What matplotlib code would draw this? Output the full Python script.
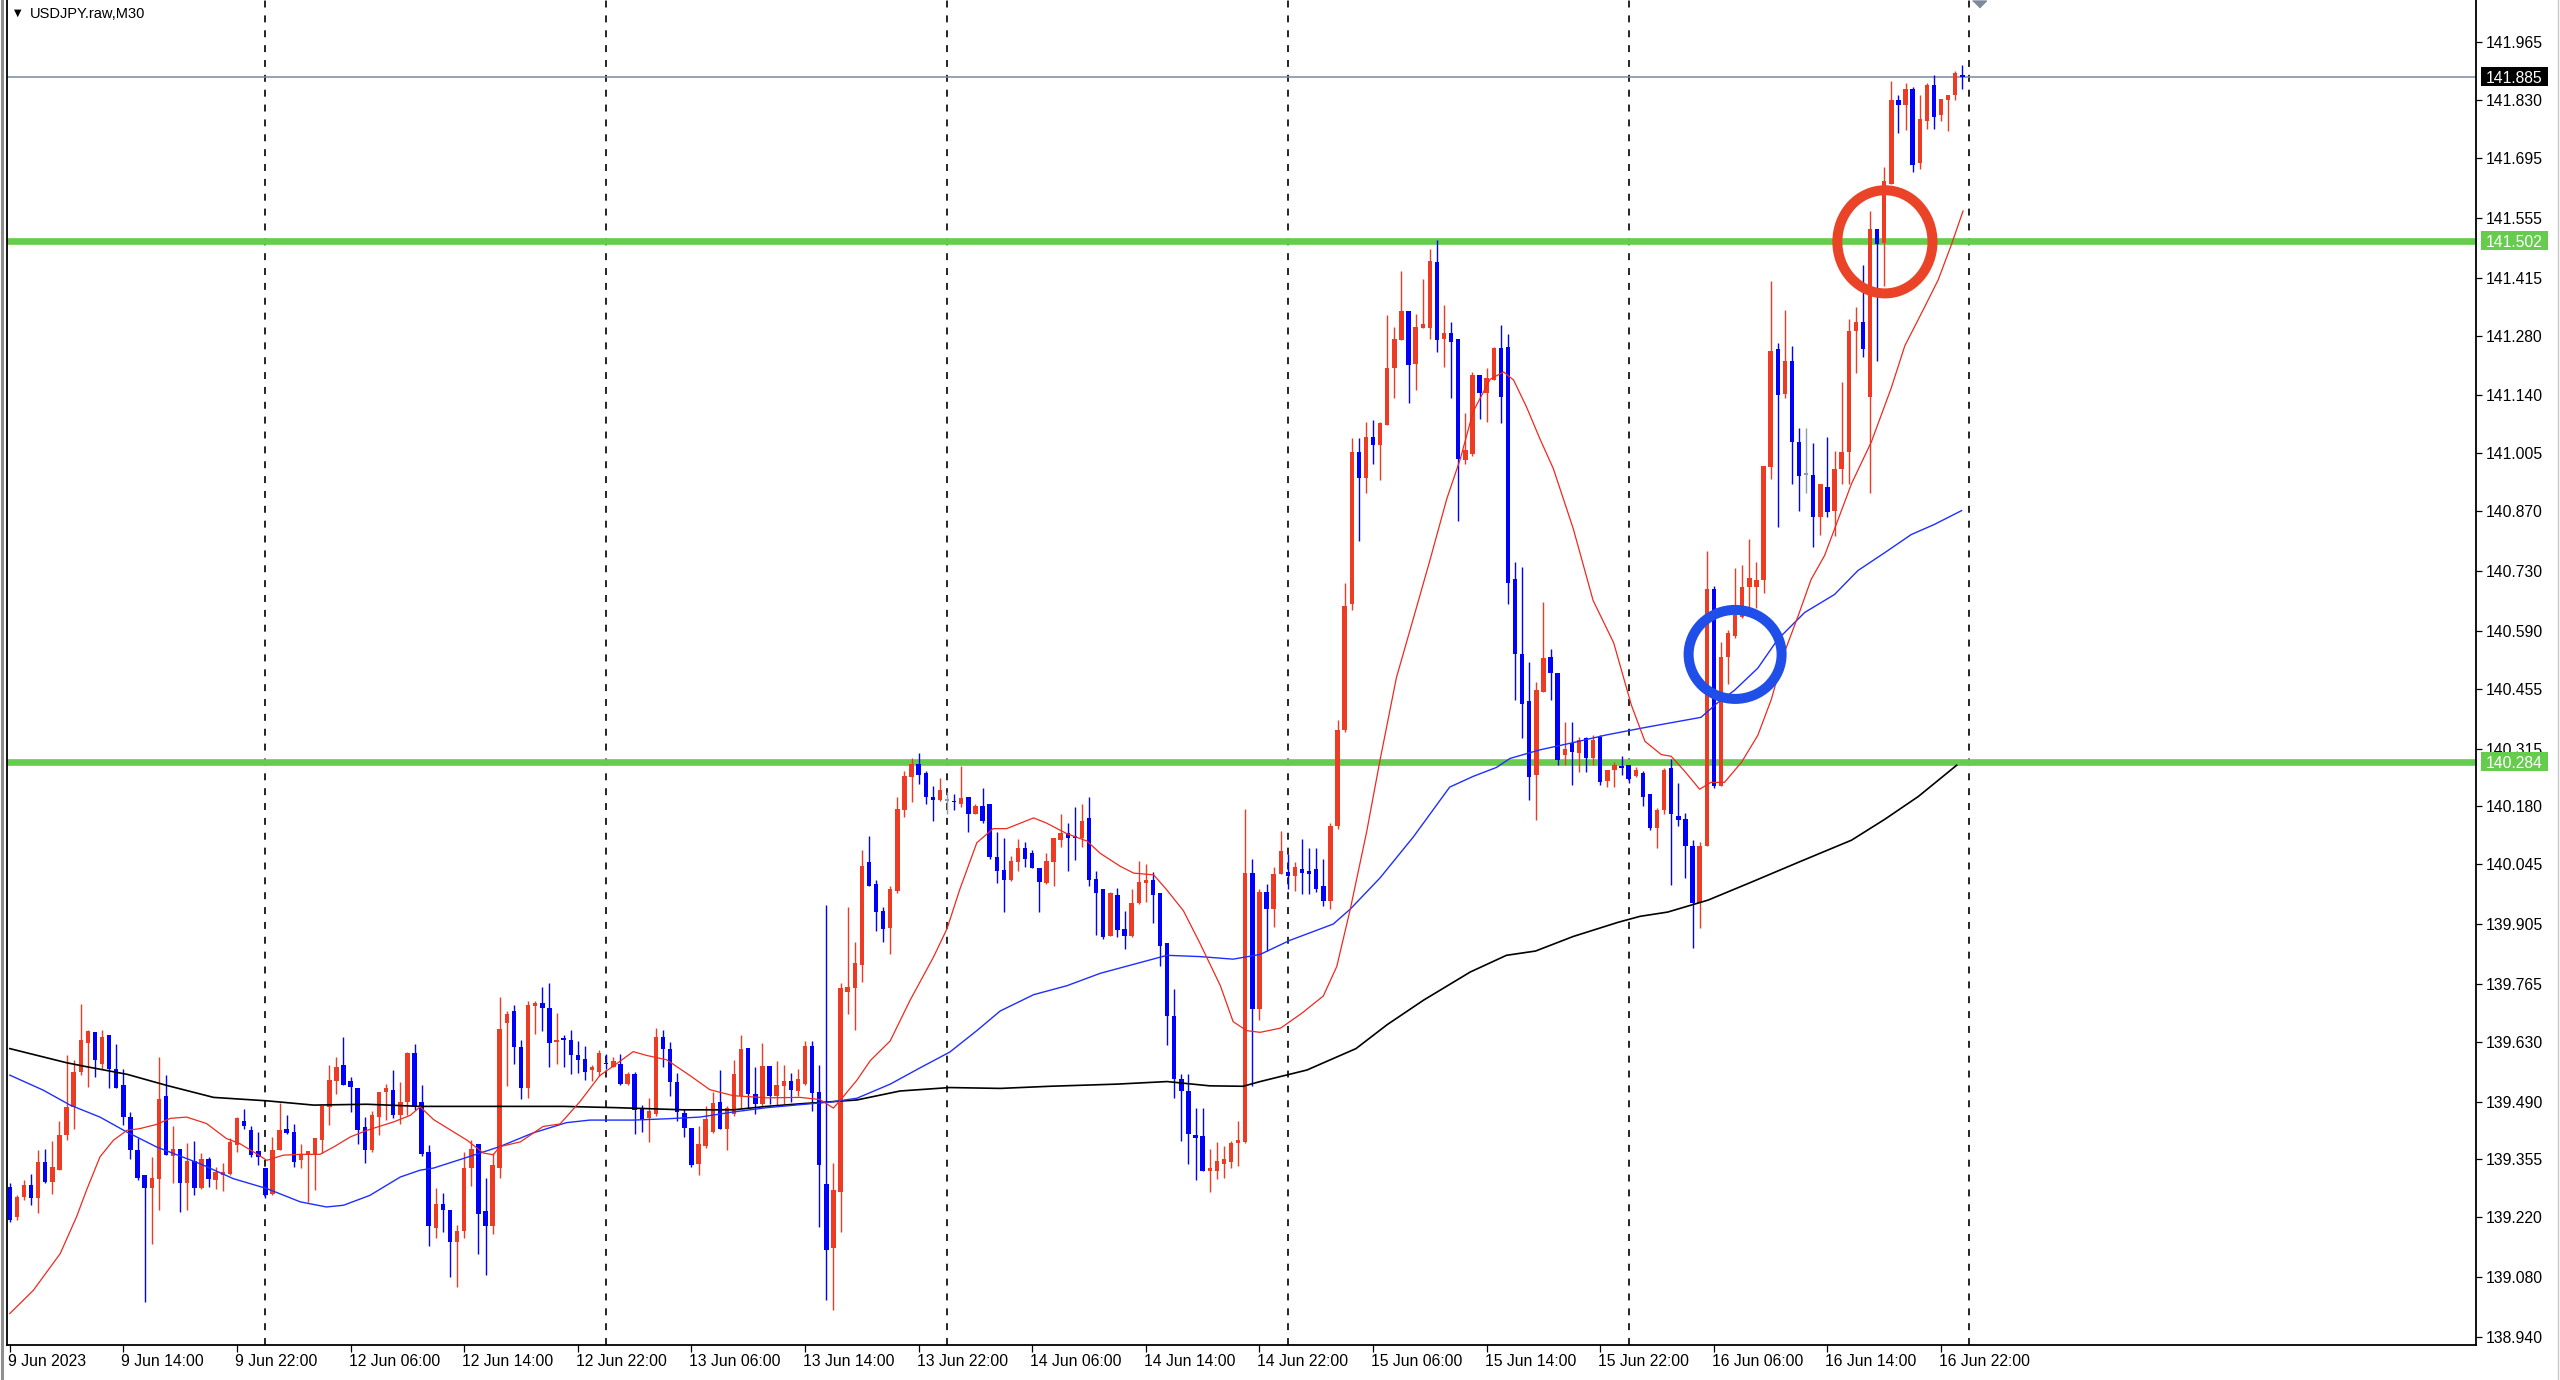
import matplotlib

matplotlib.use("Agg")
import matplotlib.pyplot as plt
import numpy as np
from matplotlib.lines import Line2D
from matplotlib.patches import Ellipse, Rectangle
from matplotlib.transforms import ScaledTranslation, blended_transform_factory

plt.rcParams["font.family"] = ["Liberation Sans", "DejaVu Sans"]
plt.rcParams["lines.scale_dashes"] = False

# ---- data (USDJPY M30, 9 Jun 06:00 .. 16 Jun 23:30, one row of 12 bars per line)
opens = [
    # 9 Jun
    139.291, 139.221, 139.268, 139.295, 139.264, 139.349, 139.303, 139.330, 139.412, 139.478, 139.560, 139.626,
    139.653, 139.579, 139.645, 139.567, 139.529, 139.455, 139.377, 139.318, 139.289, 139.310, 139.504, 139.363,
    139.379, 139.301, 139.352, 139.289, 139.355, 139.306, 139.318, 139.322, 139.388, 139.445, 139.425, 139.374,
    # 12 Jun
    139.334, 139.275, 139.377, 139.427, 139.419, 139.353, 139.365, 139.367, 139.400, 139.478, 139.538, 139.575,
    139.538, 139.521, 139.431, 139.377, 139.455, 139.513, 139.517, 139.458, 139.490, 139.604, 139.490, 139.372,
    139.194, 139.250, 139.236, 139.161, 139.187, 139.335, 139.391, 139.234, 139.199, 139.335, 139.673, 139.701,
    139.617, 139.523, 139.713, 139.720, 139.710, 139.629, 139.638, 139.635, 139.598, 139.590, 139.565, 139.560,
    # 13 Jun
    139.581, 139.572, 139.579, 139.532, 139.555, 139.476, 139.452, 139.462, 139.640, 139.612, 139.537, 139.463,
    139.429, 139.344, 139.387, 139.419, 139.490, 139.426, 139.462, 139.504, 139.616, 139.509, 139.485, 139.574,
    139.504, 139.527, 139.539, 139.516, 139.532, 139.621, 139.513, 139.298, 139.147, 139.280, 139.747, 139.755,
    139.809, 140.049, 139.999, 139.936, 139.896, 139.982, 140.171, 140.249, 140.280, 140.257, 140.203, 140.196,
    # 14 Jun
    140.193, 140.193, 140.186, 140.201, 140.163, 140.182, 140.185, 140.061, 140.032, 140.007, 140.049, 140.082,
    140.070, 140.036, 140.001, 140.049, 140.101, 140.118, 140.110, 140.107, 140.153, 140.011, 139.986, 139.878,
    139.974, 139.894, 139.876, 139.954, 140.001, 140.007, 139.978, 139.861, 139.690, 139.544, 139.515, 139.412,
    139.409, 139.327, 139.329, 139.345, 139.348, 139.394, 139.395, 140.024, 139.707, 139.981, 139.940, 140.021,
    # 15 Jun
    140.027, 140.018, 140.033, 140.030, 140.033, 139.995, 139.960, 140.134, 140.359, 140.653, 141.009, 140.948,
    141.044, 141.025, 141.071, 141.204, 141.269, 141.337, 141.213, 141.297, 141.297, 141.451, 141.271, 141.285,
    141.271, 140.990, 141.004, 141.187, 141.145, 141.176, 141.250, 141.254, 140.711, 140.536, 140.425, 140.254,
    140.448, 140.529, 140.492, 140.300, 140.327, 140.304, 140.339, 140.294, 140.343, 140.239, 140.266, 140.274,
    # 16 Jun
    140.276, 140.250, 140.259, 140.208, 140.129, 140.171, 140.269, 140.157, 140.150, 140.087, 139.954, 140.087,
    140.689, 140.227, 140.528, 140.577, 140.623, 140.693, 140.693, 140.710, 140.973, 141.249, 141.144, 141.221,
    141.032, 140.955, 140.955, 140.857, 140.927, 140.871, 140.969, 141.007, 141.291, 141.312, 141.137, 141.529,
    141.497, 141.634, 141.830, 141.819, 141.856, 141.683, 141.782, 141.865, 141.795, 141.830, 141.842, 141.887,
]
highs = [
    139.299, 139.271, 139.308, 139.321, 139.377, 139.379, 139.398, 139.445, 139.599, 139.587, 139.719, 139.657,
    139.653, 139.657, 139.645, 139.624, 139.567, 139.466, 139.404, 139.318, 139.361, 139.595, 139.553, 139.433,
    139.379, 139.394, 139.398, 139.370, 139.361, 139.338, 139.347, 139.404, 139.455, 139.474, 139.433, 139.419,
    139.334, 139.408, 139.486, 139.458, 139.439, 139.391, 139.375, 139.404, 139.479, 139.575, 139.595, 139.640,
    139.548, 139.522, 139.455, 139.469, 139.513, 139.532, 139.564, 139.536, 139.606, 139.624, 139.529, 139.388,
    139.288, 139.276, 139.236, 139.203, 139.372, 139.401, 139.391, 139.311, 139.370, 139.734, 139.701, 139.715,
    139.635, 139.725, 139.725, 139.757, 139.767, 139.698, 139.645, 139.657, 139.632, 139.619, 139.576, 139.610,
    139.602, 139.595, 139.602, 139.560, 139.560, 139.482, 139.499, 139.661, 139.657, 139.629, 139.557, 139.473,
    139.429, 139.433, 139.480, 139.513, 139.563, 139.480, 139.588, 139.645, 139.616, 139.572, 139.626, 139.574,
    139.586, 139.576, 139.557, 139.567, 139.632, 139.632, 139.576, 139.950, 139.346, 139.767, 139.946, 139.864,
    140.078, 140.111, 140.007, 139.944, 139.995, 140.201, 140.262, 140.293, 140.305, 140.262, 140.228, 140.247,
    140.213, 140.210, 140.274, 140.201, 140.185, 140.224, 140.185, 140.120, 140.107, 140.065, 140.103, 140.096,
    140.078, 140.036, 140.071, 140.105, 140.161, 140.141, 140.178, 140.186, 140.203, 140.028, 139.986, 139.980,
    139.990, 139.936, 139.986, 140.053, 140.045, 140.026, 139.978, 139.861, 139.754, 139.554, 139.554, 139.475,
    139.475, 139.379, 139.395, 139.387, 139.398, 139.445, 140.174, 140.057, 139.986, 139.998, 140.039, 140.123,
    140.068, 140.051, 140.103, 140.083, 140.083, 140.056, 140.141, 140.382, 140.701, 141.041, 141.041, 141.079,
    141.083, 141.079, 141.327, 141.300, 141.431, 141.337, 141.331, 141.411, 141.483, 141.503, 141.352, 141.312,
    141.271, 141.099, 141.195, 141.187, 141.204, 141.254, 141.304, 141.283, 140.750, 140.739, 140.518, 140.471,
    140.657, 140.548, 140.492, 140.376, 140.376, 140.341, 140.341, 140.347, 140.347, 140.266, 140.283, 140.297,
    140.276, 140.273, 140.262, 140.208, 140.175, 140.269, 140.290, 140.234, 140.164, 140.101, 140.097, 140.777,
    140.696, 140.563, 140.591, 140.738, 140.745, 140.805, 140.752, 140.976, 141.407, 141.263, 141.340, 141.256,
    141.063, 141.063, 141.029, 140.934, 141.043, 141.011, 141.172, 141.319, 141.347, 141.445, 141.571, 141.529,
    141.674, 141.875, 141.842, 141.870, 141.861, 141.842, 141.870, 141.889, 141.833, 141.842, 141.898, 141.912,
]
lows = [
    139.209, 139.213, 139.260, 139.248, 139.229, 139.299, 139.275, 139.330, 139.400, 139.427, 139.552, 139.525,
    139.548, 139.567, 139.523, 139.523, 139.435, 139.357, 139.306, 139.022, 139.158, 139.236, 139.365, 139.299,
    139.232, 139.236, 139.271, 139.287, 139.291, 139.285, 139.282, 139.318, 139.373, 139.427, 139.361, 139.342,
    139.264, 139.271, 139.377, 139.414, 139.338, 139.334, 139.256, 139.283, 139.369, 139.435, 139.509, 139.529,
    139.466, 139.392, 139.347, 139.373, 139.412, 139.447, 139.451, 139.439, 139.458, 139.470, 139.363, 139.152,
    139.171, 139.185, 139.081, 139.058, 139.171, 139.293, 139.133, 139.084, 139.180, 139.311, 139.527, 139.579,
    139.497, 139.499, 139.649, 139.654, 139.570, 139.579, 139.572, 139.554, 139.557, 139.541, 139.539, 139.551,
    139.567, 139.570, 139.529, 139.529, 139.415, 139.419, 139.396, 139.457, 139.572, 139.504, 139.445, 139.407,
    139.338, 139.319, 139.382, 139.417, 139.426, 139.377, 139.457, 139.476, 139.476, 139.462, 139.480, 139.485,
    139.480, 139.485, 139.490, 139.504, 139.529, 139.469, 139.198, 139.026, 139.003, 139.186, 139.696, 139.657,
    139.769, 139.993, 139.888, 139.863, 139.834, 139.978, 140.155, 140.191, 140.232, 140.186, 140.145, 140.193,
    140.163, 140.171, 140.178, 140.121, 140.161, 140.141, 140.057, 140.001, 139.934, 140.005, 140.028, 140.038,
    140.035, 139.934, 139.999, 139.995, 140.085, 140.030, 140.055, 140.086, 139.993, 139.879, 139.871, 139.876,
    139.874, 139.846, 139.874, 139.953, 139.957, 139.907, 139.807, 139.623, 139.498, 139.398, 139.344, 139.306,
    139.329, 139.278, 139.310, 139.312, 139.335, 139.339, 139.394, 139.527, 139.680, 139.841, 139.899, 140.021,
    139.987, 139.983, 139.975, 139.975, 139.981, 139.948, 139.940, 140.126, 140.353, 140.638, 140.800, 140.911,
    140.980, 140.943, 141.071, 141.134, 141.269, 141.122, 141.152, 141.297, 141.271, 141.242, 141.207, 141.134,
    140.847, 140.980, 140.998, 141.085, 141.079, 141.176, 141.076, 140.653, 140.428, 140.339, 140.196, 140.149,
    140.448, 140.428, 140.277, 140.277, 140.231, 140.260, 140.260, 140.277, 140.231, 140.225, 140.225, 140.254,
    140.234, 140.248, 140.180, 140.124, 140.082, 140.161, 139.996, 140.133, 140.012, 139.849, 139.895, 140.087,
    140.223, 140.227, 140.465, 140.573, 140.619, 140.643, 140.643, 140.679, 140.945, 140.833, 141.133, 140.934,
    140.871, 140.913, 140.787, 140.815, 140.857, 140.811, 140.934, 140.934, 141.193, 141.231, 140.913, 141.221,
    141.396, 141.634, 141.753, 141.760, 141.662, 141.669, 141.763, 141.763, 141.781, 141.758, 141.830, 141.856,
]
closes = [
    139.213, 139.268, 139.295, 139.264, 139.349, 139.303, 139.338, 139.412, 139.478, 139.560, 139.634, 139.655,
    139.587, 139.641, 139.567, 139.523, 139.455, 139.377, 139.312, 139.289, 139.312, 139.497, 139.365, 139.379,
    139.301, 139.352, 139.289, 139.357, 139.310, 139.326, 139.326, 139.396, 139.451, 139.433, 139.365, 139.361,
    139.271, 139.378, 139.425, 139.417, 139.349, 139.367, 139.375, 139.404, 139.479, 139.540, 139.571, 139.529,
    139.525, 139.423, 139.377, 139.458, 139.513, 139.522, 139.458, 139.490, 139.604, 139.478, 139.368, 139.199,
    139.250, 139.236, 139.161, 139.187, 139.335, 139.379, 139.227, 139.199, 139.341, 139.659, 139.696, 139.617,
    139.523, 139.715, 139.720, 139.710, 139.626, 139.633, 139.635, 139.598, 139.588, 139.560, 139.572, 139.604,
    139.578, 139.584, 139.532, 139.554, 139.471, 139.447, 139.469, 139.640, 139.612, 139.537, 139.466, 139.429,
    139.341, 139.391, 139.450, 139.488, 139.426, 139.476, 139.555, 139.614, 139.509, 139.485, 139.574, 139.504,
    139.529, 139.539, 139.518, 139.544, 139.621, 139.510, 139.342, 139.143, 139.283, 139.755, 139.759, 139.813,
    140.040, 139.995, 139.934, 139.893, 139.986, 140.174, 140.252, 140.280, 140.253, 140.203, 140.195, 140.218,
    140.193, 140.190, 140.199, 140.163, 140.182, 140.145, 140.061, 140.030, 140.007, 140.053, 140.082, 140.057,
    140.036, 140.003, 140.053, 140.105, 140.118, 140.107, 140.105, 140.146, 140.007, 139.978, 139.874, 139.978,
    139.890, 139.876, 139.954, 140.003, 140.007, 139.974, 139.853, 139.690, 139.544, 139.515, 139.415, 139.404,
    139.329, 139.335, 139.352, 139.356, 139.394, 139.400, 140.024, 139.707, 139.981, 139.940, 140.021, 140.076,
    140.018, 140.039, 140.025, 140.022, 139.987, 139.960, 140.134, 140.359, 140.649, 141.009, 140.948, 141.044,
    141.025, 141.076, 141.204, 141.271, 141.337, 141.211, 141.300, 141.306, 141.455, 141.269, 141.285, 141.265,
    140.992, 141.013, 141.187, 141.145, 141.180, 141.250, 141.137, 140.701, 140.536, 140.420, 140.248, 140.452,
    140.527, 140.492, 140.289, 140.315, 140.306, 140.335, 140.294, 140.335, 140.237, 140.266, 140.277, 140.270,
    140.245, 140.264, 140.203, 140.129, 140.171, 140.264, 140.161, 140.147, 140.087, 139.954, 140.087, 140.689,
    140.227, 140.528, 140.584, 140.626, 140.693, 140.713, 140.710, 140.976, 141.245, 141.141, 141.221, 141.032,
    140.951, 140.955, 140.857, 140.934, 140.867, 140.969, 141.007, 141.291, 141.312, 141.249, 141.529, 141.494,
    141.641, 141.830, 141.819, 141.856, 141.679, 141.786, 141.865, 141.791, 141.833, 141.842, 141.893, 141.885,
]

# moving averages (bar position, price)
red_ma_x = [0, 3.3, 7.1, 9.4, 10.8, 12.7, 14.6, 16.5, 18.3, 20.7, 22.6, 24.9, 27.7, 30.5, 32.4, 34.3, 36.2,
            38.5, 40.9, 43.7, 45.6, 48, 50.3, 54.1, 56.4, 57.8, 59.7, 64.4, 66.7, 68.1, 69.0, 71.9, 75.1,
            77.5, 80.3, 83.1, 85.5, 87.8, 89.7, 92.5, 95.8, 98.6, 101.9, 106.6, 111.3, 114.1, 116.0, 117.4,
            119.3, 121.2, 124.0, 126.8, 130.1, 132.0, 133.8, 136.2, 138.5, 140.4, 144.2, 146.0, 148.9, 151.7,
            153.6, 156.4, 158.3, 161.1, 162.9, 165.3, 167.6, 170.5, 172.3, 174.2, 176.1, 179, 182, 185.0,
            186.9, 188.8, 191.1, 193.0, 195.3, 197.7, 200.0, 202.4, 204.3, 206.1, 208.5, 210.4, 211.8, 213.6,
            215.5, 217.4, 220.2, 223.0, 225.9, 228.4, 230.3, 232.6, 234.0, 235.9, 238.0, 239.6, 241.5, 243.9,
            246.2, 248.1, 250.0, 251.9, 253.7, 255.6, 257.5, 259.4, 262.2, 265.0, 266.9, 269.7, 271.6, 273.5,
            275.1]
red_ma_y = [138.995, 139.049, 139.135, 139.221, 139.283, 139.361, 139.400, 139.423, 139.427, 139.437, 139.451,
            139.454, 139.439, 139.404, 139.392, 139.373, 139.353, 139.365, 139.367, 139.367, 139.384, 139.408,
            139.423, 139.443, 139.458, 139.478, 139.448, 139.400, 139.370, 139.366, 139.385, 139.396, 139.432,
            139.438, 139.490, 139.551, 139.579, 139.607, 139.598, 139.588, 139.551, 139.518, 139.504, 139.499,
            139.500, 139.495, 139.475, 139.502, 139.540, 139.586, 139.632, 139.727, 139.828, 139.894, 139.986,
            140.095, 140.128, 140.128, 140.153, 140.141, 140.116, 140.099, 140.070, 140.040, 140.024, 140.020,
            139.986, 139.936, 139.861, 139.761, 139.677, 139.656, 139.652, 139.662, 139.697, 139.737, 139.806,
            139.940, 140.120, 140.289, 140.481, 140.620, 140.754, 140.899, 140.992, 141.102, 141.178, 141.195,
            141.176, 141.114, 141.039, 140.969, 140.829, 140.661, 140.562, 140.416, 140.332, 140.301, 140.297,
            140.262, 140.220, 140.236, 140.236, 140.283, 140.346, 140.430, 140.542, 140.626, 140.710, 140.766,
            140.850, 140.934, 141.032, 141.158, 141.256, 141.347, 141.410, 141.494, 141.571]
blue_ma_x = [0, 4.7, 8.5, 12.7, 16.5, 20.7, 26.8, 31.5, 36.2, 40.9, 44.6, 47.0, 50.7, 55.0, 57.8, 59.7, 64.4,
             69.0, 73.7, 78.4, 81.7, 87.8, 92.5, 97.2, 101.9, 106.6, 111.3, 116.0, 119.3, 124.0, 128.2, 132.4,
             136.2, 139.5, 144.2, 148.9, 153.6, 158.3, 163.0, 167.6, 172.3, 176.1, 180.3, 186.4, 188.8, 193.0,
             197.7, 202.8, 206.1, 209.4, 211.3, 215.5, 220.2, 224.9, 229.6, 231.2, 238.2, 240.6, 242.9, 246.2,
             249.0, 252.8, 257.0, 260.3, 264.1, 267.8, 271.1, 274.9]
blue_ma_y = [139.552, 139.517, 139.482, 139.454, 139.419, 139.384, 139.345, 139.310, 139.287, 139.256, 139.244,
             139.248, 139.271, 139.314, 139.330, 139.335, 139.360, 139.385, 139.417, 139.441, 139.447, 139.447,
             139.450, 139.454, 139.466, 139.476, 139.483, 139.490, 139.498, 139.531, 139.569, 139.606, 139.656,
             139.702, 139.740, 139.761, 139.790, 139.811, 139.832, 139.829, 139.823, 139.834, 139.867, 139.905,
             139.940, 140.013, 140.109, 140.225, 140.250, 140.271, 140.292, 140.312, 140.329, 140.347, 140.362,
             140.367, 140.388, 140.423, 140.451, 140.503, 140.570, 140.633, 140.675, 140.731, 140.773, 140.815,
             140.839, 140.871]
black_ma_x = [0, 8.0, 10.4, 16.5, 22.1, 28.7, 36.2, 42.8, 50.3, 57.8, 69.0, 78.0, 85.5, 94.9, 101.9, 106.6,
              111.3, 119.3, 125.4, 132.4, 139.5, 146.5, 155.9, 163.0, 169.0, 173.7, 176.1, 182.7, 189.6, 194.0,
              199.1, 205.7, 210.8, 214.9, 220.2, 226.5, 229.6, 233.5, 239.2, 245.3, 252.3, 259.4, 264.1, 268.8,
              274.2]
black_ma_y = [139.614, 139.581, 139.573, 139.554, 139.528, 139.500, 139.492, 139.482, 139.484, 139.479, 139.479,
              139.479, 139.476, 139.471, 139.471, 139.479, 139.485, 139.494, 139.515, 139.523, 139.521, 139.526,
              139.531, 139.537, 139.527, 139.526, 139.537, 139.564, 139.614, 139.670, 139.727, 139.793, 139.832,
              139.842, 139.876, 139.909, 139.923, 139.933, 139.961, 140.003, 140.052, 140.101, 140.150, 140.203,
              140.276]

hlines = [141.502, 140.284]  # green horizontal lines
last_price = 141.885
day_starts = [36, 84, 132, 180, 228, 276]
time_ticks = list(range(0, 273, 16))
time_labels = ["9 Jun 2023", "9 Jun 14:00", "9 Jun 22:00", "12 Jun 06:00", "12 Jun 14:00", "12 Jun 22:00",
               "13 Jun 06:00", "13 Jun 14:00", "13 Jun 22:00", "14 Jun 06:00", "14 Jun 14:00", "14 Jun 22:00",
               "15 Jun 06:00", "15 Jun 14:00", "15 Jun 22:00", "16 Jun 06:00", "16 Jun 14:00", "16 Jun 22:00"]
price_ticks = [141.965, 141.830, 141.695, 141.555, 141.415, 141.280, 141.140, 141.005, 140.870, 140.730,
               140.590, 140.455, 140.315, 140.180, 140.045, 139.905, 139.765, 139.630, 139.490, 139.355,
               139.220, 139.080, 138.940]
# circles drawn on the chart: (bar, price, width in bars, height in price)
blue_circle = (243.0, 140.535, 13.1, 0.208)
red_circle = (264.1, 141.499, 13.4, 0.241)

RED = "#EE3B24"
BLUE = "#0000FF"
GRAY = "#8C9BB0"
GREEN = "#66CC4D"

W, H = 2560, 1380
fig = plt.figure(figsize=(W / 100, H / 100), dpi=100)
ax = fig.add_axes([7 / W, 35 / H, (2476 - 7) / W, 1345 / H])
ax.set_xlim(-0.394, 347.35)
ax.set_ylim(138.9215, 142.064)

# separators and levels
for d in day_starts:
    ax.axvline(d, color="black", lw=1.2, linestyle=(0, (5, 5.7)), zorder=1)
ax.axhline(last_price, color="#7A8A9E", lw=1.1, zorder=1.5)
for p in hlines:
    ax.axhline(p, color=GREEN, lw=4.8, zorder=2)

# candles
o = np.array(opens)
hi = np.array(highs)
lo = np.array(lows)
c = np.array(closes)
x = np.arange(len(o))
cols = np.where(c > o, RED, np.where(c < o, BLUE, GRAY))
ax.vlines(x, np.minimum(lo, np.minimum(o, c)), np.maximum(hi, np.maximum(o, c)), colors=cols, lw=1.0, zorder=3)
ax.bar(x, np.maximum(np.abs(c - o), 0.0035), bottom=np.minimum(o, c), width=0.62, color=cols,
       linewidth=0, zorder=4)

# moving averages
ax.plot(black_ma_x, black_ma_y, color="black", lw=1.2, zorder=5)
ax.plot(blue_ma_x, blue_ma_y, color="#1E2EFF", lw=1.0, zorder=5)
ax.plot(red_ma_x, red_ma_y, color="#EE2A1E", lw=0.9, zorder=5)

# hand drawn circles
for (cx, cy, ew, eh), ec in [(blue_circle, "#1F4FE8"), (red_circle, "#EB4328")]:
    ax.add_patch(Ellipse((cx, cy), ew, eh, fill=False, ec=ec, lw=7.2, zorder=6))

# axes look
for side in ["left", "right", "bottom"]:
    ax.spines[side].set_color("black")
    ax.spines[side].set_linewidth(1.3)
ax.spines["top"].set_visible(False)

ax.yaxis.tick_right()
ax.set_yticks(price_ticks)
ax.set_yticklabels([f"{v:.3f}" for v in price_ticks])
ax.tick_params(axis="y", direction="out", length=4.3, width=0.9, pad=3, labelsize=11.3)
ax.set_xticks(time_ticks)
ax.set_xticklabels(time_labels)
ax.tick_params(axis="x", direction="out", length=5, width=0.9, pad=1.5, labelsize=11.3)
shift = ScaledTranslation(-2 / 100, 0, fig.dpi_scale_trans)
for lab in ax.get_xticklabels():
    lab.set_horizontalalignment("left")
    lab.set_transform(lab.get_transform() + shift)

# price tags on the right scale
tr = blended_transform_factory(ax.transAxes, ax.transData)
axw = 2476 - 7
for p, fc in [(last_price, "black"), (hlines[0], GREEN), (hlines[1], GREEN)]:
    ax.add_patch(Rectangle(((2481 - 7) / axw, p - 9.5 / 428), 67 / axw, 19 / 428, transform=tr,
                           fc=fc, ec="none", clip_on=False, zorder=9))
    ax.text((2486 - 7) / axw, p, f"{p:.3f}", transform=tr, ha="left", va="center_baseline",
            color="white", fontsize=11.3, clip_on=False, zorder=10)

# chart shift marker at the top
ax.plot([277.35], [142.064 - 3.5 / 428], marker=[(-1, 0.5), (1, 0.5), (0, -0.5)], ms=10,
        color="#7D8A99", clip_on=False, zorder=7)

# title and window borders
fig.text(18 / W, 1 - 13 / H, "\u25bc", fontsize=7, family="DejaVu Sans", ha="center", va="center")
fig.text(30 / W, 1 - 14 / H, "USDJPY.raw,M30", fontsize=10.5, ha="left", va="center")
fig.add_artist(Line2D([1.5 / W, 1.5 / W], [0, 1], color="#8F8F8F", lw=2.2, transform=fig.transFigure))
fig.add_artist(Line2D([2557.5 / W, 2557.5 / W], [0, 1], color="#C8C8C8", lw=1, transform=fig.transFigure))

fig.savefig("out.png", dpi=100, facecolor="white")
